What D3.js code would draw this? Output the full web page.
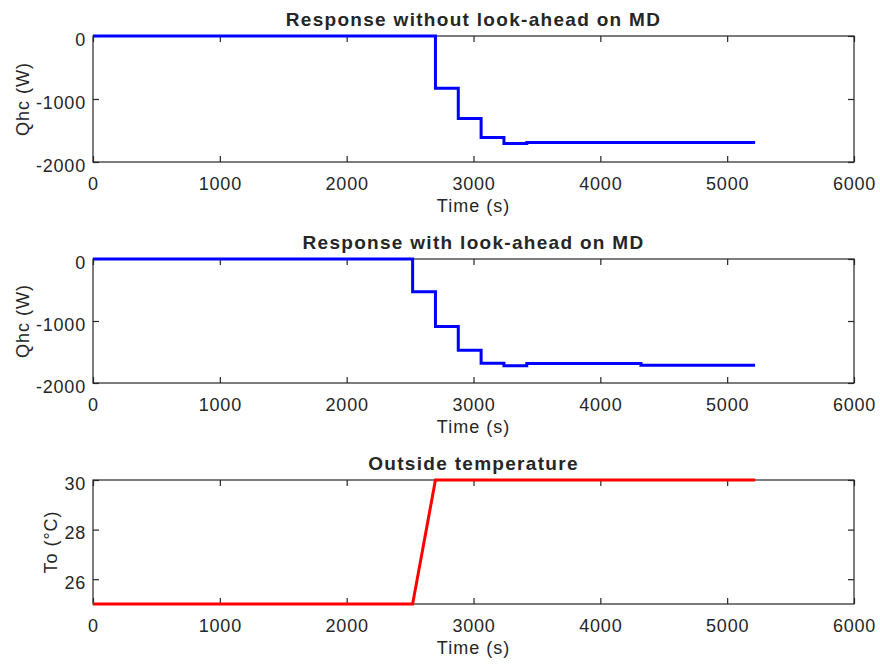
<!DOCTYPE html>
<html>
<head>
<meta charset="utf-8">
<script src="https://cdn.jsdelivr.net/npm/d3@7"></script>
<style>
  body { margin: 0; background: #fff; }
  text { font-family: "Liberation Sans", Arial, sans-serif; fill: #262626; }
</style>
</head>
<body>
<svg id="chart" width="880" height="665"></svg>
<script>
// ---- data ----
const xTicks = [0, 1000, 2000, 3000, 4000, 5000, 6000];

const titles = ["Response without look-ahead on MD", "Response with look-ahead on MD", "Outside temperature"];
const yLabels = ["Qhc (W)", "Qhc (W)", "To (\u00B0C)"];

// Response without look-ahead (step-after)
const noLookTime = [0, 2700, 2880, 3060, 3240, 3420, 5220];
const noLookQhc  = [0, -830, -1310, -1610, -1705, -1690, -1690];

// Response with look-ahead (step-after)
const lookTime = [0, 2520, 2700, 2880, 3060, 3240, 3420, 4320, 5220];
const lookQhc  = [0, -530, -1090, -1470, -1680, -1720, -1685, -1715, -1715];

// Outside temperature (linear)
const tempTime = [0, 2520, 2700, 5220];
const tempVal  = [25, 25, 30, 30];

const qTicks = [-2000, -1000, 0];
const tTicks = [26, 28, 30];

// ---- layout ----
const svg = d3.select("#chart");
const left = 93, right = 854;
const panels = [
  { top: 36,  bottom: 162, domain: [-2000, 0], ticks: qTicks, t: noLookTime, v: noLookQhc, color: "#0000ff", curve: d3.curveStepAfter, ylabX: 29 },
  { top: 259, bottom: 383, domain: [-2000, 0], ticks: qTicks, t: lookTime, v: lookQhc, color: "#0000ff", curve: d3.curveStepAfter, ylabX: 29 },
  { top: 480, bottom: 604, domain: [25, 30], ticks: tTicks, t: tempTime, v: tempVal, color: "#ff0000", curve: d3.curveLinear, ylabX: 57 }
];

const x = d3.scaleLinear().domain([0, 6000]).range([left, right]);
const axisColor = "#262626";
const tickLen = 6;
const fmt = d => String(d);

panels.forEach((p, i) => {
  const y = d3.scaleLinear().domain(p.domain).range([p.bottom, p.top]);
  const g = svg.append("g");

  // box
  g.append("rect")
    .attr("x", left).attr("y", p.top)
    .attr("width", right - left).attr("height", p.bottom - p.top)
    .attr("fill", "none").attr("stroke", axisColor).attr("stroke-width", 1.2);

  // bottom x axis (ticks inward), labels
  const xb = g.append("g").attr("transform", `translate(0,${p.bottom})`)
    .call(d3.axisBottom(x).tickValues(xTicks).tickSize(-tickLen).tickSizeOuter(0).tickFormat(fmt));
  xb.select(".domain").remove();
  xb.selectAll("line").attr("stroke", axisColor).attr("stroke-width", 1.2);
  xb.selectAll("text").attr("font-size", 18).style("letter-spacing", "0.8px")
    .attr("dy", null).attr("y", 28).attr("fill", axisColor).attr("font-family", null);

  // top x ticks
  const xt = g.append("g").attr("transform", `translate(0,${p.top})`)
    .call(d3.axisTop(x).tickValues(xTicks).tickSize(-tickLen).tickSizeOuter(0).tickFormat(""));
  xt.select(".domain").remove();
  xt.selectAll("line").attr("stroke", axisColor).attr("stroke-width", 1.2);

  // left y axis
  const yl = g.append("g").attr("transform", `translate(${left},0)`)
    .call(d3.axisLeft(y).tickValues(p.ticks).tickSize(-tickLen).tickSizeOuter(0).tickPadding(7).tickFormat(fmt));
  yl.select(".domain").remove();
  yl.selectAll("line").attr("stroke", axisColor).attr("stroke-width", 1.2);
  yl.selectAll("text").attr("font-size", 18).style("letter-spacing", "0.8px")
    .attr("dy", null).attr("y", 9).attr("fill", axisColor).attr("font-family", null);

  // right y ticks
  const yr = g.append("g").attr("transform", `translate(${right},0)`)
    .call(d3.axisRight(y).tickValues(p.ticks).tickSize(-tickLen).tickSizeOuter(0).tickFormat(""));
  yr.select(".domain").remove();
  yr.selectAll("line").attr("stroke", axisColor).attr("stroke-width", 1.2);

  // title
  g.append("text")
    .attr("x", (left + right) / 2).attr("y", p.top - 10)
    .attr("text-anchor", "middle").attr("font-size", 19).attr("font-weight", "bold")
    .style("letter-spacing", "1.3px")
    .text(titles[i]);

  // x label
  g.append("text")
    .attr("x", (left + right) / 2).attr("y", p.bottom + 50)
    .attr("text-anchor", "middle").attr("font-size", 18)
    .style("letter-spacing", "1px")
    .text("Time (s)");

  // y label
  g.append("text")
    .attr("transform", `translate(${p.ylabX},${(p.top + p.bottom) / 2}) rotate(-90)`)
    .attr("text-anchor", "middle").attr("font-size", 18)
    .style("letter-spacing", "1px")
    .text(yLabels[i]);

  // series
  const data = p.t.map((t, k) => [t, p.v[k]]);
  const line = d3.line().x(d => x(d[0])).y(d => y(d[1])).curve(p.curve);
  g.append("path")
    .datum(data)
    .attr("d", line)
    .attr("fill", "none")
    .attr("stroke", p.color)
    .attr("stroke-width", 3)
    .attr("stroke-linejoin", "miter");
});
</script>
</body>
</html>
